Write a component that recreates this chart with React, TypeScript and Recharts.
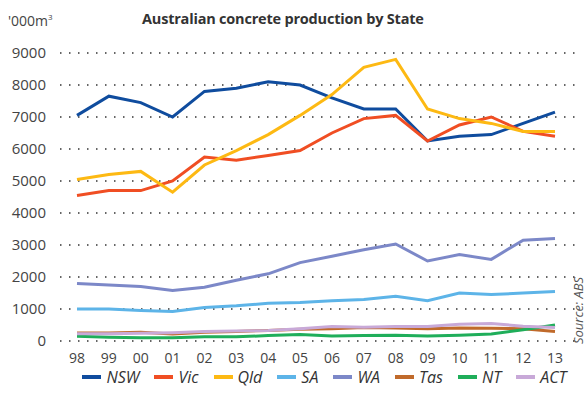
import React from 'react'
import { LineChart, Line, XAxis, YAxis, CartesianGrid, Legend } from 'recharts'

const years = ['98', '99', '00', '01', '02', '03', '04', '05', '06', '07', '08', '09', '10', '11', '12', '13']

const nsw = [7050, 7650, 7450, 7000, 7800, 7900, 8100, 8000, 7600, 7250, 7250, 6250, 6400, 6450, 6800, 7150]
const vic = [4550, 4700, 4700, 5000, 5750, 5650, 5800, 5950, 6500, 6950, 7050, 6250, 6750, 7000, 6550, 6400]
const qld = [5050, 5200, 5300, 4650, 5500, 5950, 6450, 7050, 7700, 8550, 8800, 7250, 6950, 6800, 6550, 6550]
const sa = [1000, 1000, 950, 920, 1050, 1100, 1180, 1200, 1260, 1300, 1400, 1260, 1500, 1450, 1500, 1550]
const wa = [1800, 1750, 1700, 1580, 1680, 1900, 2100, 2450, 2650, 2850, 3030, 2500, 2700, 2550, 3150, 3200]
const tas = [250, 250, 270, 220, 270, 300, 330, 370, 380, 420, 410, 380, 410, 400, 380, 300]
const nt = [150, 120, 100, 100, 130, 130, 170, 200, 160, 170, 180, 160, 180, 220, 350, 500]
const act = [230, 230, 240, 260, 300, 310, 330, 380, 450, 430, 450, 450, 520, 550, 460, 420]

const yTicks = [0, 1000, 2000, 3000, 4000, 5000, 6000, 7000, 8000, 9000]

const series = [
  { key: 'NSW', values: nsw, color: '#0f4c9e' },
  { key: 'Vic', values: vic, color: '#f04e23' },
  { key: 'Qld', values: qld, color: '#fdb913' },
  { key: 'SA', values: sa, color: '#5db4e8' },
  { key: 'WA', values: wa, color: '#7c88c8' },
  { key: 'Tas', values: tas, color: '#c06a2b' },
  { key: 'NT', values: nt, color: '#1fae5a' },
  { key: 'ACT', values: act, color: '#c8a9d8' },
]

const data = years.map((year, i) => {
  const row: Record<string, string | number> = { year }
  series.forEach((s) => {
    row[s.key] = s.values[i]
  })
  return row
})

const font = '"Open Sans", sans-serif'

const LegendContent = () => (
  <div
    style={{
      display: 'flex',
      justifyContent: 'center',
      gap: 15,
      height: 25,
      alignItems: 'center',
      paddingLeft: 74,
      fontFamily: font,
      fontStyle: 'italic',
      fontSize: 16,
      color: '#333',
    }}
  >
    {series.map((s) => (
      <div key={s.key} style={{ display: 'flex', alignItems: 'center' }}>
        <span style={{ display: 'inline-block', width: 19, height: 4, background: s.color, marginRight: 5 }} />
        {s.key}
      </div>
    ))}
  </div>
)

export default function App() {
  return (
    <div style={{ position: 'absolute', left: 0, top: 0, width: 587, height: 410, background: '#fff', fontFamily: font }}>
      <div style={{ position: 'absolute', left: 8, top: 11, fontSize: 14, color: '#444' }}>
        '000m<sup style={{ fontSize: 8 }}>3</sup>
      </div>
      <div
        style={{
          position: 'absolute',
          left: 142,
          top: 9,
          fontSize: 14.5,
          fontWeight: 700,
          color: '#333',
          letterSpacing: -0.2,
          whiteSpace: 'nowrap',
        }}
      >
        Australian concrete production by State
      </div>
      <div
        style={{
          position: 'absolute',
          left: 571,
          top: 344,
          transform: 'rotate(-90deg)',
          transformOrigin: 'left top',
          fontSize: 13,
          lineHeight: '15px',
          fontStyle: 'italic',
          color: '#555',
          whiteSpace: 'nowrap',
        }}
      >
        Source: ABS
      </div>
      <LineChart width={587} height={410} data={data} margin={{ top: 53, right: 12, left: 0, bottom: 21 }}>
        <CartesianGrid vertical={false} stroke="#333" strokeWidth={1.5} strokeDasharray="1.5 7.5" />
        <XAxis
          dataKey="year"
          padding={{ left: 17, right: 20 }}
          axisLine={false}
          tickLine={false}
          height={23}
          tick={{ fill: '#444', fontSize: 14, fontFamily: font }}
          tickMargin={6}
          interval={0}
        />
        <YAxis
          domain={[0, 9000]}
          ticks={yTicks}
          width={60}
          axisLine={false}
          tickLine={false}
          tick={{ fill: '#444', fontSize: 15, fontFamily: font }}
          tickMargin={8}
        />
        <Legend verticalAlign="bottom" content={<LegendContent />} />
        {series.map((s) => (
          <Line
            key={s.key}
            type="linear"
            dataKey={s.key}
            stroke={s.color}
            strokeWidth={3}
            dot={false}
            isAnimationActive={false}
          />
        ))}
      </LineChart>
    </div>
  )
}
